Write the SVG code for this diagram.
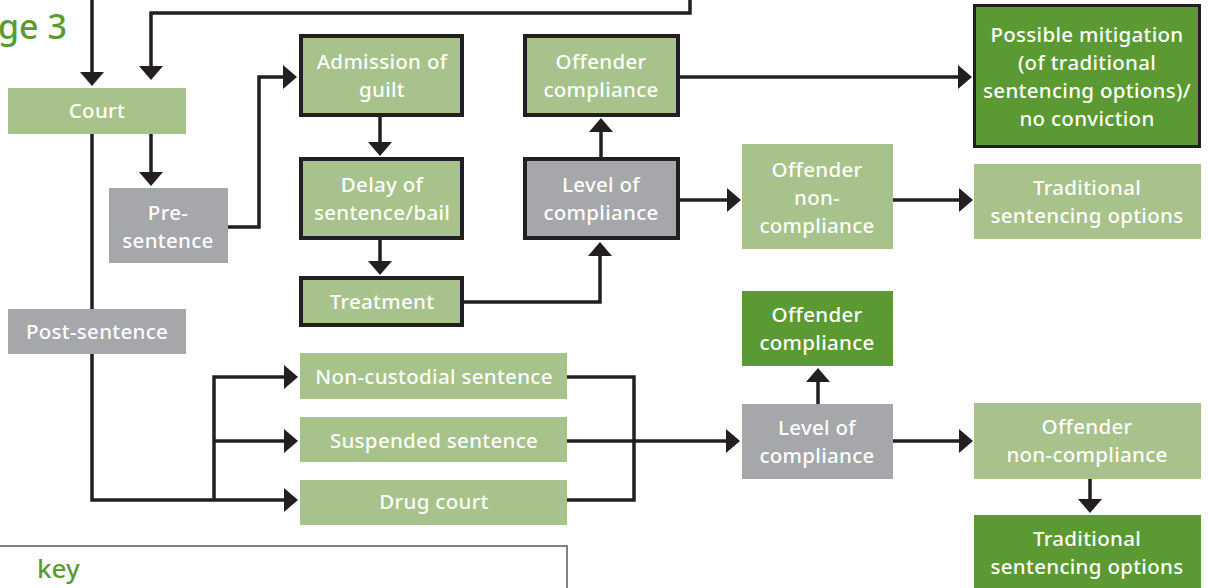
<svg xmlns="http://www.w3.org/2000/svg" width="1208" height="588" viewBox="0 0 1208 588">
<defs>
<marker id="ah" markerWidth="16" markerHeight="24" refX="10" refY="12" orient="auto" markerUnits="userSpaceOnUse"><path d="M0,0 L14,12 L0,24 z" fill="#231f20"/></marker>
<style>
.lg{fill:#a7c28b}
.dg{fill:#5b9a32}
.gy{fill:#a6a7ab}
.bd{stroke:#231f20;stroke-width:4}
.t{font-family:"Noto Sans","Liberation Sans",sans-serif;font-size:20.5px;font-weight:500;fill:#ffffff;text-anchor:middle;letter-spacing:0.3px}
.c{fill:none;stroke:#231f20;stroke-width:3.5}
.ca{fill:none;stroke:#231f20;stroke-width:3.5;marker-end:url(#ah)}
</style>
</defs>
<rect width="1208" height="588" fill="#ffffff"/>
<text x="-2" y="39" font-family="Noto Sans, Liberation Sans, sans-serif" font-size="34" font-weight="500" fill="#5b9a32">ge 3</text>

<g id="connectors">
<path class="ca" d="M92,0 V82"/>
<path class="ca" d="M690,0 V13 H151 V76"/>
<path class="ca" d="M151,134 V182"/>
<path class="ca" d="M228,227 H259 V77 H293"/>
<path class="ca" d="M380,117 V152"/>
<path class="ca" d="M380,240 V271"/>
<path class="ca" d="M464,302 H600 V246"/>
<path class="ca" d="M601,157 V122"/>
<path class="ca" d="M680,77 H968"/>
<path class="ca" d="M680,200 H737"/>
<path class="ca" d="M893,200 H969"/>
<path class="c" d="M92,134 V309"/>
<path class="ca" d="M92,354 V500 H294"/>
<path class="ca" d="M214,500 V377 H294"/>
<path class="ca" d="M214,441 H294"/>
<path class="c" d="M567,377 H634 V500 H567"/>
<path class="ca" d="M567,441 H736"/>
<path class="ca" d="M818,404 V372"/>
<path class="ca" d="M893,441 H969"/>
<path class="ca" d="M1090,479 V509"/>
</g>

<g id="court"><rect class="lg" x="8" y="88" width="178" height="46"/><text class="t" x="97" y="118">Court</text></g>
<g id="pre-sentence"><rect class="gy" x="109" y="188" width="119" height="75"/><text class="t" x="168" y="220">Pre-</text><text class="t" x="168" y="248">sentence</text></g>
<g id="post-sentence"><rect class="gy" x="8" y="309" width="178" height="45"/><text class="t" x="97" y="339">Post-sentence</text></g>
<g id="admission"><rect class="lg bd" x="301" y="36" width="161" height="79"/><text class="t" x="382" y="69">Admission of</text><text class="t" x="382" y="97">guilt</text></g>
<g id="delay"><rect class="lg bd" x="301" y="159" width="161" height="79"/><text class="t" x="382" y="192">Delay of</text><text class="t" x="382" y="220">sentence/bail</text></g>
<g id="treatment"><rect class="lg bd" x="301" y="278" width="161" height="47"/><text class="t" x="382" y="309">Treatment</text></g>
<g id="offender-compliance-1"><rect class="lg bd" x="525" y="36" width="153" height="79"/><text class="t" x="601" y="69">Offender</text><text class="t" x="601" y="97">compliance</text></g>
<g id="level-1"><rect class="gy bd" x="525" y="159" width="153" height="79"/><text class="t" x="601" y="192">Level of</text><text class="t" x="601" y="220">compliance</text></g>
<g id="mitigation"><rect class="dg" x="974.5" y="5.5" width="225" height="141" stroke="#231f20" stroke-width="3"/><text class="t" x="1087" y="42">Possible mitigation</text><text class="t" x="1087" y="70">(of traditional</text><text class="t" x="1087" y="98">sentencing options)/</text><text class="t" x="1087" y="126">no conviction</text></g>
<g id="non-compliance-1"><rect class="lg" x="742" y="144" width="151" height="105"/><text class="t" x="817" y="177">Offender</text><text class="t" x="817" y="205">non-</text><text class="t" x="817" y="233">compliance</text></g>
<g id="traditional-1"><rect class="lg" x="974" y="164" width="227" height="75"/><text class="t" x="1087" y="195">Traditional</text><text class="t" x="1087" y="223">sentencing options</text></g>
<g id="non-custodial"><rect class="lg" x="300" y="353" width="267" height="46"/><text class="t" x="434" y="384">Non-custodial sentence</text></g>
<g id="suspended"><rect class="lg" x="300" y="417" width="267" height="45"/><text class="t" x="434" y="448">Suspended sentence</text></g>
<g id="drug-court"><rect class="lg" x="300" y="480" width="267" height="45"/><text class="t" x="434" y="509">Drug court</text></g>
<g id="offender-compliance-2"><rect class="dg" x="742" y="291" width="151" height="75"/><text class="t" x="817" y="322">Offender</text><text class="t" x="817" y="350">compliance</text></g>
<g id="level-2"><rect class="gy" x="742" y="404" width="151" height="75"/><text class="t" x="817" y="435">Level of</text><text class="t" x="817" y="463">compliance</text></g>
<g id="non-compliance-2"><rect class="lg" x="974" y="403" width="227" height="76"/><text class="t" x="1087" y="434">Offender</text><text class="t" x="1087" y="462">non-compliance</text></g>
<g id="traditional-2"><rect class="dg" x="974" y="515" width="227" height="80"/><text class="t" x="1087" y="546">Traditional</text><text class="t" x="1087" y="574">sentencing options</text></g>
<g id="key"><rect x="-2" y="546" width="569" height="60" fill="#ffffff" stroke="#58595b" stroke-width="1.5"/><text x="37" y="578" font-family="Noto Sans, Liberation Sans, sans-serif" font-size="26" font-weight="500" fill="#5b9a32">key</text></g>
</svg>
